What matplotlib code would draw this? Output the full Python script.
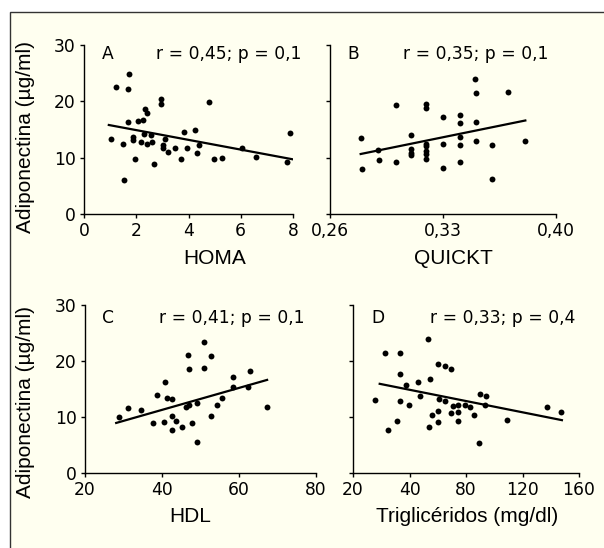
import matplotlib.pyplot as plt
from matplotlib.patches import Rectangle

plt.rcParams['font.family'] = ['Liberation Sans', 'DejaVu Sans']

# Painel A - HOMA
homa_x = [1.03, 1.22, 1.48, 1.53, 1.68, 1.73, 1.68, 1.86, 1.86, 1.96, 2.08, 2.27, 2.20, 2.31,
          2.34, 2.41, 2.43, 2.56, 2.62, 2.68, 2.93, 2.93, 3.03, 3.03, 3.11, 3.20, 3.48, 3.71,
          3.83, 3.94, 4.24, 4.31, 4.41, 4.79, 4.96, 5.30, 6.06, 6.57, 7.77, 7.87]
homa_y = [13.25, 22.5, 12.5, 6.1, 22.2, 24.9, 16.4, 13.7, 13.1, 9.7, 16.5, 16.6, 12.8, 14.2,
          18.6, 17.9, 12.4, 14.0, 12.8, 8.8, 20.4, 19.6, 12.2, 11.7, 13.3, 11.0, 11.7, 9.8,
          14.6, 11.8, 14.9, 10.8, 12.2, 19.8, 9.7, 10.0, 11.8, 10.1, 9.2, 14.4]
homa_fit_x = [0.95, 8.0]
homa_fit_y = [15.8, 9.7]

# Painel B - QUICKT
quickt_x = [0.2795, 0.2801, 0.2897, 0.2903, 0.3009, 0.3009, 0.3100, 0.3100, 0.3100, 0.3100,
            0.3197, 0.3197, 0.3197, 0.3197, 0.3197, 0.3197, 0.3197, 0.3303, 0.3303, 0.3303,
            0.3405, 0.3405, 0.3405, 0.3405, 0.3405, 0.3500, 0.3506, 0.3506, 0.3506, 0.3602,
            0.3602, 0.3702, 0.3809]
quickt_y = [13.55, 8.05, 11.3, 9.5, 19.4, 9.2, 14.1, 11.5, 10.9, 10.5,
            19.5, 18.9, 12.5, 12.0, 11.2, 10.6, 9.7, 17.3, 12.4, 8.2,
            17.6, 16.1, 13.6, 12.2, 9.2, 23.9, 21.5, 16.3, 13.0, 12.2,
            6.2, 21.7, 12.9]
quickt_fit_x = [0.279, 0.381]
quickt_fit_y = [10.65, 16.6]

# Painel C - HDL
hdl_x = [28.8, 31.2, 34.5, 37.7, 38.6, 40.4, 40.9, 41.4, 42.5, 42.5, 42.5, 43.6, 45.2, 46.2,
         46.7, 47.0, 47.0, 47.9, 49.2, 49.1, 50.8, 50.8, 52.7, 52.8, 54.3, 55.6, 58.5, 58.5,
         62.3, 62.8, 67.4]
hdl_y = [9.9, 11.5, 11.2, 8.9, 13.9, 9.0, 16.2, 13.3, 13.2, 10.1, 7.7, 9.2, 8.1, 11.8,
         21.0, 18.6, 12.2, 8.9, 12.5, 5.5, 23.3, 18.7, 20.8, 10.2, 12.2, 13.4, 17.2, 15.4,
         15.4, 18.2, 11.8]
hdl_fit_x = [28.1, 67.3]
hdl_fit_y = [8.9, 16.6]

# Painel D - Triglicéridos
tg_x = [15.4, 22.7, 24.9, 31.2, 33.1, 33.6, 33.6, 37.2, 39.3, 45.9, 47.3, 53.0, 53.5, 54.2,
        55.6, 60.4, 60.4, 60.4, 61.1, 64.9, 64.9, 69.1, 69.3, 71.0, 74.3, 74.3, 74.3, 79.1,
        83.1, 85.5, 89.5, 89.9, 93.5, 94.4, 108.9, 137.5, 147.2]
tg_y = [13.0, 21.5, 7.6, 9.3, 17.6, 21.5, 12.8, 15.7, 12.2, 16.2, 13.7, 23.9, 8.2, 16.8,
        10.4, 19.5, 11.1, 9.0, 13.2, 19.1, 12.9, 18.6, 10.6, 11.9, 12.1, 10.9, 9.3, 12.2,
        11.8, 10.3, 5.4, 14.1, 12.2, 13.7, 9.5, 11.7, 10.8]
tg_fit_x = [18.9, 147.9]
tg_fit_y = [15.9, 9.4]

y_ticks = [0, 10, 20, 30]
ylabel = "Adiponectina (µg/ml)"

fig = plt.figure(figsize=(6.04, 5.48), dpi=100)
fig.patch.set_facecolor('white')

# moldura creme
fig.patches.append(Rectangle((10 / 604, -0.05), 1.2, 1 - 12 / 548 + 0.05,
                             transform=fig.transFigure, facecolor='#FFFFF0',
                             edgecolor='#333333', linewidth=1.0, zorder=-10))

tick_font = dict(family='DejaVu Sans', size=12.3)

panels = [
    # (rect, x, y, fit_x, fit_y, xlim, xticks, xticklabels, xlabel, xlabel_pos, letter, stats,
    #  show_y, ylabel_pos, lx, rx, ty)
    ([84 / 604, 1 - 214 / 548, 209 / 604, 169 / 548], homa_x, homa_y, homa_fit_x, homa_fit_y,
     (0, 8), [0, 2, 4, 6, 8], ['0', '2', '4', '6', '8'], 'HOMA', (0.627, -0.205),
     'A', 'r = 0,45; p = 0,1', True, (-0.234, 0.456), 0.086, 1.043, 0.947),
    ([330 / 604, 1 - 214 / 548, 226 / 604, 169 / 548], quickt_x, quickt_y, quickt_fit_x, quickt_fit_y,
     (0.26, 0.40), [0.26, 0.33, 0.40], ['0,26', '0,33', '0,40'], 'QUICKT', (0.544, -0.205),
     'B', 'r = 0,35; p = 0,1', False, None, 0.075, 0.969, 0.947),
    ([85 / 604, 1 - 472.7 / 548, 231 / 604, 167.7 / 548], hdl_x, hdl_y, hdl_fit_x, hdl_fit_y,
     (20, 80), [20, 40, 60, 80], ['20', '40', '60', '80'], 'HDL', (0.455, -0.205),
     'C', 'r = 0,41; p = 0,1', True, (-0.216, 0.42), 0.074, 0.952, 0.925),
    ([353 / 604, 1 - 472.7 / 548, 226 / 604, 167.7 / 548], tg_x, tg_y, tg_fit_x, tg_fit_y,
     (0, 160), [0, 40, 80, 120, 160], ['20', '40', '80', '120', '160'], 'Triglicéridos (mg/dl)',
     (0.504, -0.205), 'D', 'r = 0,33; p = 0,4', False, None, 0.08, 0.982, 0.925),
]

for (rect, xs, ys, fx, fy, xlim, xt, xtl, xlabel, xlpos, letter, stats, show_y, ylpos,
     lx, rx, ty) in panels:
    ax = fig.add_axes(rect)
    ax.set_facecolor('none')
    ax.scatter(xs, ys, s=18, color='black', linewidths=0, zorder=3, clip_on=False)
    ax.plot(fx, fy, color='black', linewidth=1.6, zorder=2)
    ax.set_xlim(*xlim)
    ax.set_ylim(0, 30)
    ax.set_xticks(xt)
    ax.set_xticklabels(xtl, fontdict=tick_font)
    ax.set_yticks(y_ticks)
    if show_y:
        ax.set_yticklabels([str(v) for v in y_ticks], fontdict=tick_font)
        ax.set_ylabel(ylabel, fontsize=15)
        ax.yaxis.set_label_coords(*ylpos)
    else:
        ax.set_yticklabels([])
    ax.set_xlabel(xlabel, fontsize=15)
    ax.xaxis.set_label_coords(*xlpos)
    for s in ['top', 'right']:
        ax.spines[s].set_visible(False)
    for s in ['left', 'bottom']:
        ax.spines[s].set_linewidth(1.0)
    ax.tick_params(direction='out', length=3, width=1, pad=3)
    ax.text(lx, ty, letter, transform=ax.transAxes, fontsize=12.3, family='DejaVu Sans',
            ha='left', va='center')
    ax.text(rx, ty, stats, transform=ax.transAxes, fontsize=12.3, family='DejaVu Sans',
            ha='right', va='center')

fig.savefig('out.png', dpi=100)
